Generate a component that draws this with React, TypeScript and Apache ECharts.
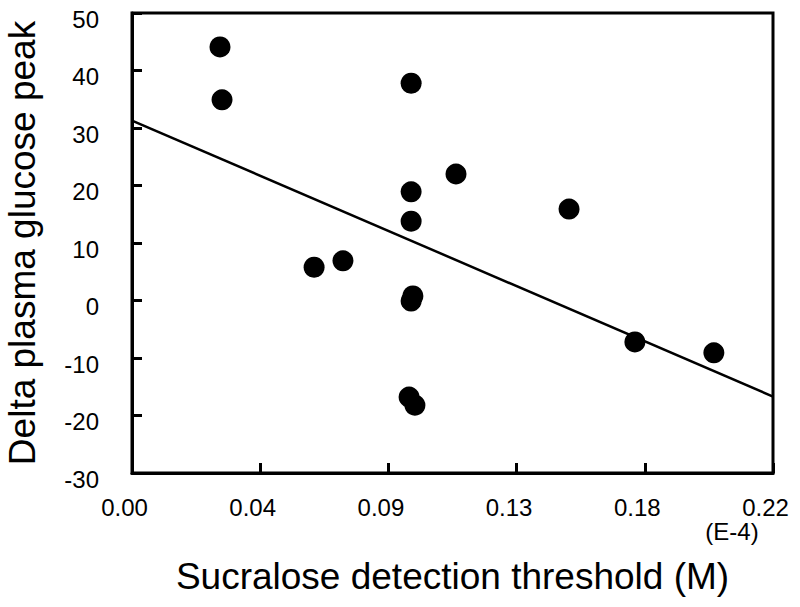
import React, { useEffect, useRef } from "react";
import * as echarts from "echarts";

const thresholdX = [0.0302, 0.0309, 0.0958, 0.1112, 0.0958, 0.0958, 0.15, 0.0625, 0.0724, 0.0964, 0.0958, 0.1726, 0.1997, 0.0951, 0.0971];
const glucosePeakY = [44.1, 34.9, 37.8, 22.0, 18.9, 13.8, 15.9, 5.8, 6.9, 0.8, -0.1, -7.2, -9.1, -16.8, -18.2];
const fitX = [0, 0.22];
const fitY = [31.3, -16.7];

const FONT = "'Liberation Sans', Arial, sans-serif";

export default function App() {
  const ref = useRef<HTMLDivElement>(null);
  useEffect(() => {
    if (!ref.current) return;
    const chart = echarts.init(ref.current, null, { renderer: "svg" });
    chart.setOption({
      animation: false,
      backgroundColor: "#ffffff",
      textStyle: { fontFamily: FONT, color: "#000" },
      grid: {
        left: 132,
        right: 27,
        top: 13,
        bottom: 134,
        containLabel: false,
        outerBoundsMode: "none",
        show: true,
        borderColor: "#000",
        borderWidth: 3,
        backgroundColor: "transparent",
      },
      xAxis: {
        type: "value",
        min: 0,
        max: 0.22,
        interval: 0.044,
        name: "Sucralose detection threshold (M)",
        nameLocation: "middle",
        nameGap: 85,
        nameTextStyle: { fontSize: 37, color: "#000", fontFamily: FONT },
        axisLine: { show: true, onZero: false, lineStyle: { color: "#000", width: 3 } },
        axisTick: { show: true, inside: true, length: 10, lineStyle: { color: "#000", width: 3 } },
        axisLabel: {
          fontSize: 24,
          color: "#000",
          fontFamily: FONT,
          margin: 22,
          formatter: (v: number) => "{a|" + v.toFixed(2) + "}",
          rich: { a: { fontSize: 24, color: "#000", fontFamily: FONT, padding: [0, 15, 0, 0] } },
          showMinLabel: true,
          showMaxLabel: true,
        },
        splitLine: { show: false },
      },
      yAxis: {
        type: "value",
        min: -30,
        max: 50,
        interval: 10,
        name: "Delta plasma glucose peak",
        nameLocation: "middle",
        nameRotate: 90,
        nameGap: 91,
        nameTextStyle: { fontSize: 37, color: "#000", fontFamily: FONT },
        axisLine: { show: true, onZero: false, lineStyle: { color: "#000", width: 3 } },
        axisTick: { show: true, inside: true, length: 10, lineStyle: { color: "#000", width: 3 } },
        axisLabel: {
          fontSize: 24,
          color: "#000",
          fontFamily: FONT,
          margin: 33,
          verticalAlign: "top",
          lineHeight: 12,
        },
        splitLine: { show: false },
      },
      graphic: [
        {
          type: "text",
          x: 732,
          y: 531,
          style: {
            text: "(E-4)",
            fontSize: 24,
            fontFamily: FONT,
            fill: "#000",
            textAlign: "center",
            textVerticalAlign: "middle",
          },
        },
      ],
      series: [
        {
          type: "line",
          data: fitX.map((x, i) => [x, fitY[i]]),
          showSymbol: false,
          symbol: "none",
          lineStyle: { color: "#000", width: 2.5 },
          silent: true,
          z: 2,
        },
        {
          type: "scatter",
          data: thresholdX.map((x, i) => [x, glucosePeakY[i]]),
          symbol: "circle",
          symbolSize: 21,
          itemStyle: { color: "#000", opacity: 1 },
          z: 3,
        },
      ],
    });
    return () => chart.dispose();
  }, []);
  return (
    <div
      ref={ref}
      style={{ position: "fixed", left: 0, top: 0, width: 800, height: 607, background: "#fff" }}
    />
  );
}
